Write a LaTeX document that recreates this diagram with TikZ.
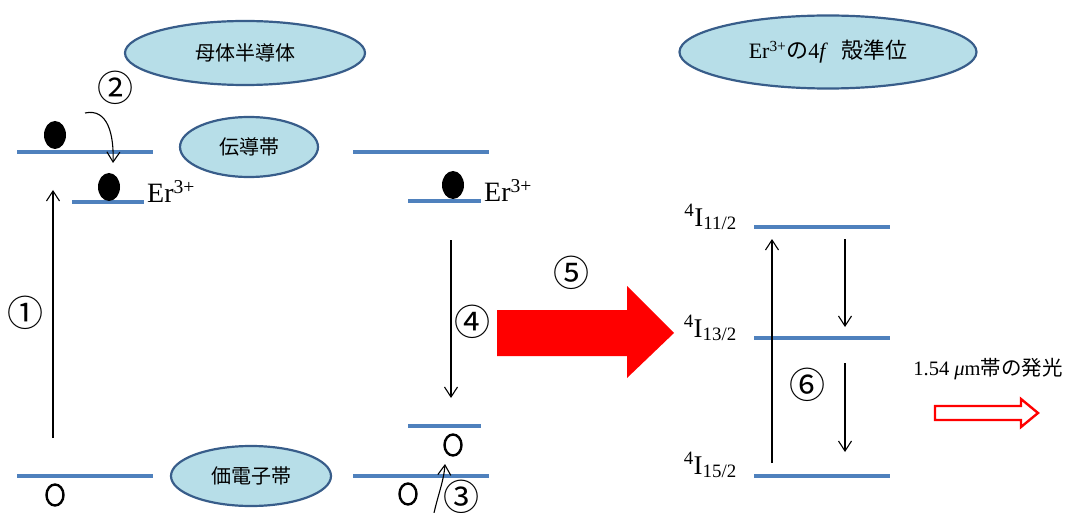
\documentclass[tikz,border=0pt]{standalone}
\usepackage{fontspec}
\setmainfont{Liberation Serif}
\newfontfamily\jp{Noto Sans CJK JP}
\usetikzlibrary{shapes.geometric,arrows.meta}
\definecolor{lvl}{HTML}{4F81BD}
\definecolor{efill}{HTML}{B7DEE8}
\definecolor{edraw}{HTML}{385D8A}
\begin{document}
\begin{tikzpicture}[x=1pt,y=-1pt,
  level/.style={draw=lvl,line width=3.5pt},
  bubble/.style={ellipse,draw=edraw,fill=efill,line width=2.2pt,inner sep=0pt,font=\jp\fontsize{20}{20}\selectfont},
  elec/.style={ellipse,fill=black,minimum width=22pt,minimum height=28pt,inner sep=0pt},
  hole/.style={ellipse,draw=black,line width=2.4pt,minimum width=17pt,minimum height=21pt,inner sep=0pt},
  trans/.style={line width=1.1pt,-{Straight Barb[length=10pt,width=13pt]}},
  num/.style={font=\jp\fontsize{36}{36}\selectfont,inner sep=0pt},
  erlab/.style={font=\fontsize{28}{28}\selectfont,anchor=base west,inner sep=0pt},
  term/.style={font=\fontsize{27}{27}\selectfont,anchor=base east,inner sep=0pt}
]
\useasboundingbox (0,0) rectangle (1073,513);

% ellipses
\node[bubble,minimum width=240pt,minimum height=64pt] (host) at (245,53) {母体半導体};
\node[bubble,minimum width=138pt,minimum height=60pt] (cb) at (249,147) {伝導帯};
\node[bubble,minimum width=160pt,minimum height=60pt] (vb) at (251,476) {価電子帯};
\node[bubble,minimum width=297pt,minimum height=73pt,font=\fontsize{22}{22}\selectfont] (fsh) at (828,52)
  {Er\textsuperscript{3+}{\jp の}4\textit{f}\hspace{0.6em}{\jp 殻準位}};

% left levels
\coordinate (lcbA) at (17,152); \coordinate (lcbB) at (153,152);
\coordinate (lerA) at (72,202); \coordinate (lerB) at (144,202);
\coordinate (lvbA) at (17,476); \coordinate (lvbB) at (153,476);
\draw[level] (lcbA) -- (lcbB);
\draw[level] (lerA) -- (lerB);
\draw[level] (lvbA) -- (lvbB);

% right levels (semiconductor)
\coordinate (rcbA) at (353,152); \coordinate (rcbB) at (489,152);
\coordinate (rerA) at (408,201); \coordinate (rerB) at (481,201);
\coordinate (racA) at (408,426); \coordinate (racB) at (481,426);
\coordinate (rvbA) at (353,476); \coordinate (rvbB) at (489,476);
\draw[level] (rcbA) -- (rcbB);
\draw[level] (rerA) -- (rerB);
\draw[level] (racA) -- (racB);
\draw[level] (rvbA) -- (rvbB);

% 4f levels
\coordinate (i11A) at (754,227); \coordinate (i11B) at (890,227);
\coordinate (i13A) at (754,338); \coordinate (i13B) at (890,338);
\coordinate (i15A) at (754,476); \coordinate (i15B) at (890,476);
\draw[level] (i11A) -- (i11B);
\draw[level] (i13A) -- (i13B);
\draw[level] (i15A) -- (i15B);

% Er labels
\node[erlab] (er1) at (147,203) {Er\textsuperscript{3+}};
\node[erlab] (er2) at (484,202) {Er\textsuperscript{3+}};

% term labels
\node[term] (t11) at (737,226) {\textsuperscript{4}I\textsubscript{11/2}};
\node[term] (t13) at (737,337) {\textsuperscript{4}I\textsubscript{13/2}};
\node[term] (t15) at (737,474) {\textsuperscript{4}I\textsubscript{15/2}};

% electrons and holes
\node[elec] (e1) at (55,135) {};
\node[elec] (e2) at (109,187) {};
\node[elec] (e3) at (453,185) {};
\node[hole] (h1) at (55,495) {};
\node[hole] (h2) at (453,445) {};
\node[hole] (h3) at (408,494) {};

% transitions
\coordinate (a1s) at (53,438); \coordinate (a1e) at (53,190);
\draw[trans] (a1s) -- (a1e);
\node[num] (n1) at (26,313) {①};

\coordinate (a2s) at (85,113); \coordinate (a2e) at (113,163);
\draw[trans] (a2s) .. controls (108,108) and (114,135) .. (a2e);
\node[num] (n2) at (115,88) {②};

\coordinate (a3s) at (434,513); \coordinate (a3e) at (445,464);
\draw[trans] (a3s) .. controls (438,495) and (444,480) .. (a3e);
\node[num] (n3) at (461,497) {③};

\coordinate (a4s) at (451,240); \coordinate (a4e) at (451,398);
\draw[trans] (a4s) -- (a4e);
\node[num] (n4) at (472,322) {④};

\node[num] (n5) at (571,273) {⑤};
\fill[red] (497,310) -- (627,310) -- (627,286) -- (674,333) -- (627,378) -- (627,356) -- (497,356) -- cycle;

\coordinate (b1s) at (772,463); \coordinate (b1e) at (772,239);
\draw[trans] (b1s) -- (b1e);
\coordinate (b2s) at (845,239); \coordinate (b2e) at (845,327);
\draw[trans] (b2s) -- (b2e);
\coordinate (b3s) at (845,363); \coordinate (b3e) at (845,452);
\draw[trans] (b3s) -- (b3e);
\node[num] (n6) at (807,385) {⑥};

% emission
\node[font=\fontsize{20.5}{20.5}\selectfont,anchor=base,inner sep=0pt] (emit) at (988,375)
  {1.54 \textit{μ}m{\jp 帯の発光}};
\draw[red,line width=2.4pt,fill=white] (935,406) -- (1021,406) -- (1021,399) -- (1038,413) -- (1021,427) -- (1021,420) -- (935,420) -- cycle;
\end{tikzpicture}
\end{document}
